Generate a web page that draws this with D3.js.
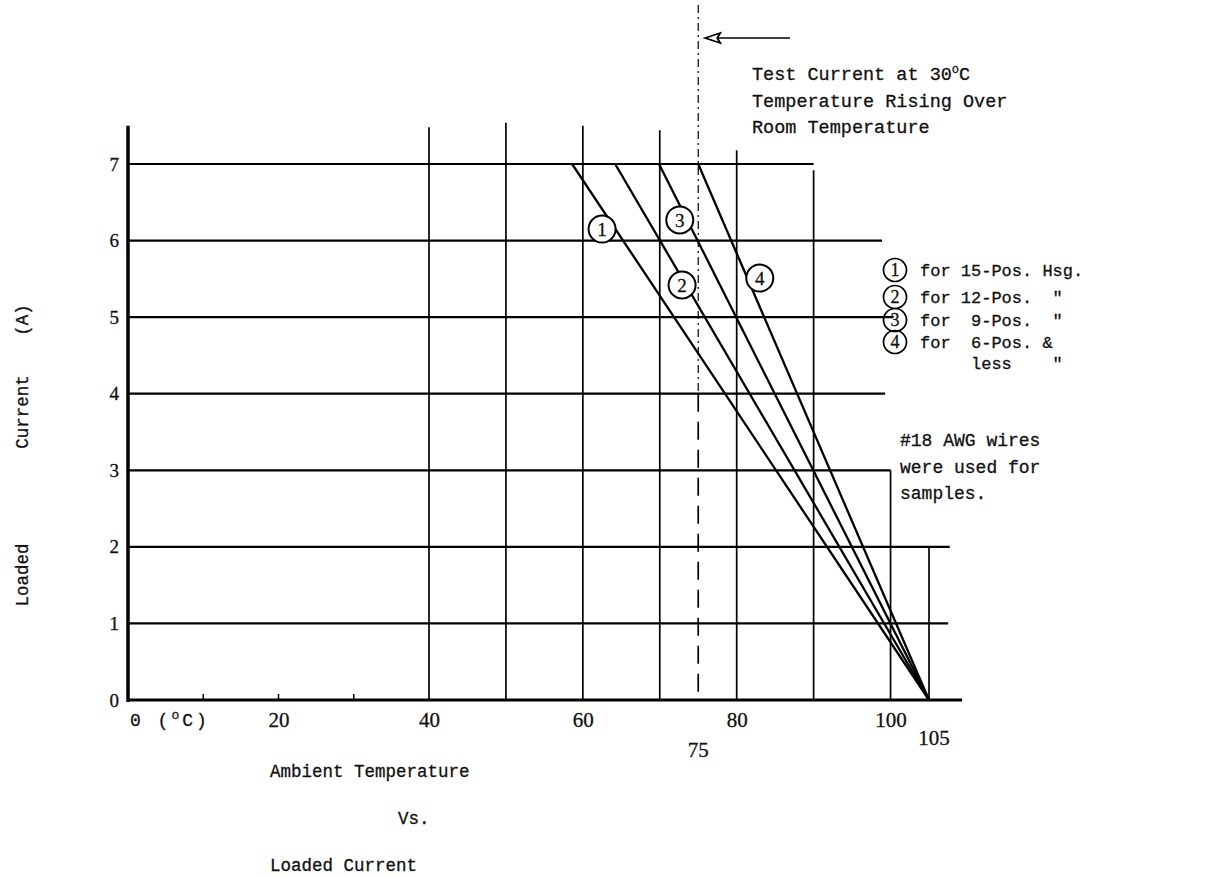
<!DOCTYPE html>
<html><head><meta charset="utf-8">
<script src="https://cdn.jsdelivr.net/npm/d3@7"></script>
<style>
body{margin:0;background:#fff;}
svg{display:block;background:#fff;}
text{font-family:"Liberation Mono","DejaVu Sans Mono",monospace;fill:#111;stroke:#111;stroke-width:0.3px;white-space:pre;}
</style></head><body>
<svg id="chart" width="1211" height="878"></svg>
<script>
// ---- data ----
const currentTicks = [0,1,2,3,4,5,6,7];
const tempTickLabels = [20,40,60,80,100];
const gridTemps = [40,50,60,70,80,90];
const gridTempTops = [7.48,7.54,7.5,7.44,7.18,6.92];
const gridCurrents = [1,2,3,4,5,6,7];
const gridCurrentEnds = [107.5,107.7,100,99.3,100.4,98.9,90];
const shortTemps = [100,105];
const shortTempTops = [3,2];
const minorTemps = [10,20,30];
const seriesNames = ["1","2","3","4"];
const seriesStartTemp = [58.6,64.2,69.9,75];
const seriesStartCurrent = [7,7,7,7];
const seriesEndTemp = [105,105,105,105];
const seriesEndCurrent = [0,0,0,0];
const labelTemp = [62.5,72.9,72.6,83.0];
const labelCurrent = [6.15,5.42,6.27,5.51];
const legendText = ["for 15-Pos. Hsg.", "for 12-Pos.  \"", "for  9-Pos.  \"", "for  6-Pos. &", "     less    \""];
const noteText = ["#18 AWG wires","were used for","samples."];
const testTemp = 75;
const testText = ["Test Current at 30", "Temperature Rising Over", "Room Temperature"];
const yTitleWords = ["Loaded","Current","(A)"];
const xTitleLines = ["Ambient Temperature","Vs.","Loaded Current"];

// ---- chart ----
const svg = d3.select("#chart");
const x = d3.scaleLinear().domain([0,40,105]).range([128,429,929]);
const y = d3.scaleLinear().domain([0,7]).range([700,164]);
const fs = 17.5;

const g = svg.append("g");

// horizontal grid lines
g.selectAll(".hg").data(gridCurrents).join("line")
  .attr("x1", x(0)).attr("x2", (d,i)=>x(gridCurrentEnds[i]))
  .attr("y1", d=>y(d)).attr("y2", d=>y(d))
  .attr("stroke","#000").attr("stroke-width",2.2);

// vertical grid lines
g.selectAll(".vg").data(gridTemps).join("line")
  .attr("x1", d=>x(d)).attr("x2", d=>x(d))
  .attr("y1", y(0)).attr("y2", (d,i)=>y(gridTempTops[i]))
  .attr("stroke","#000").attr("stroke-width",1.7);
g.selectAll(".vs").data(shortTemps).join("line")
  .attr("x1", d=>x(d)).attr("x2", d=>x(d))
  .attr("y1", y(0)).attr("y2", (d,i)=>y(shortTempTops[i]))
  .attr("stroke","#000").attr("stroke-width",1.7);

// minor ticks
g.selectAll(".mt").data(minorTemps).join("line")
  .attr("x1", d=>x(d)).attr("x2", d=>x(d))
  .attr("y1", y(0)).attr("y2", y(0)-6)
  .attr("stroke","#000").attr("stroke-width",1.5);

// dashed test line
g.append("line").attr("x1",x(testTemp)).attr("x2",x(testTemp))
  .attr("y1",5).attr("y2",y(4))
  .attr("stroke","#000").attr("stroke-width",1.2).attr("stroke-dasharray","8,4,2,4");
g.append("line").attr("x1",x(testTemp)).attr("x2",x(testTemp))
  .attr("y1",y(4)).attr("y2",y(0))
  .attr("stroke","#000").attr("stroke-width",1.7).attr("stroke-dasharray","18,10");

// axes
g.append("line").attr("x1",x(0)).attr("x2",x(109.3)).attr("y1",y(0)).attr("y2",y(0))
  .attr("stroke","#000").attr("stroke-width",3);
g.append("line").attr("x1",x(0)).attr("x2",x(0)).attr("y1",y(0)+2).attr("y2",y(7.5))
  .attr("stroke","#000").attr("stroke-width",3.5);

// series lines
g.selectAll(".s").data(seriesNames).join("line")
  .attr("x1",(d,i)=>x(seriesStartTemp[i])).attr("y1",(d,i)=>y(seriesStartCurrent[i]))
  .attr("x2",(d,i)=>x(seriesEndTemp[i])).attr("y2",(d,i)=>y(seriesEndCurrent[i]))
  .attr("stroke","#000").attr("stroke-width",2.3);

// series labels (circled numbers)
const lab = g.selectAll(".lab").data(seriesNames).join("g")
  .attr("transform",(d,i)=>`translate(${x(labelTemp[i])},${y(labelCurrent[i])})`);
lab.append("circle").attr("r",13.5).attr("fill","#fff").attr("stroke","#000").attr("stroke-width",2);
lab.append("text").attr("text-anchor","middle").attr("dy","0.36em")
  .style("font-family","'Liberation Serif',serif").style("font-size","19px").text(d=>d);

// y axis labels
const yAxis = d3.axisLeft(y).tickValues(currentTicks).tickSize(0).tickPadding(9).tickFormat(d3.format("d"));
const ya = g.append("g").attr("transform",`translate(${x(0)},0)`).call(yAxis);
ya.select(".domain").remove();
ya.selectAll("text").style("font-family","'Liberation Serif',serif").style("font-size","19px").attr("fill","#111");

// x axis labels
const xAxis = d3.axisBottom(x).tickValues(tempTickLabels).tickSize(0).tickPadding(12).tickFormat(d3.format("d"));
const xa = g.append("g").attr("transform",`translate(0,${y(0)})`).call(xAxis);
xa.select(".domain").remove();
xa.selectAll("text").style("font-family","'Liberation Serif',serif").style("font-size","21px").attr("fill","#111");

const zeroLab = g.append("text").attr("x",x(0)+2).attr("y",y(0)+26).style("font-size","18px").style("letter-spacing","3px");
zeroLab.append("tspan").text("0 (");
zeroLab.append("tspan").text("o").style("font-size","13px").attr("dy",-7);
zeroLab.append("tspan").text("C)").attr("dy",7);
g.append("text").attr("x",x(75)).attr("y",y(0)+57).attr("text-anchor","middle")
  .style("font-family","'Liberation Serif',serif").style("font-size","21px").text("75");
g.append("text").attr("x",x(105)+5).attr("y",y(0)+45).attr("text-anchor","middle")
  .style("font-family","'Liberation Serif',serif").style("font-size","21px").text("105");

// axis titles
const yTitleCenters = [575,412,320];
g.selectAll(".yt").data(yTitleWords).join("text")
  .attr("transform",(d,i)=>`translate(28,${yTitleCenters[i]}) rotate(-90)`).attr("text-anchor","middle")
  .style("font-size",fs+"px").text(d=>d);
const xTitleX = [270,398,270];
g.selectAll(".xt").data(xTitleLines).join("text").attr("x",(d,i)=>xTitleX[i]).attr("y",(d,i)=>777+i*47)
  .style("font-size",fs+"px").text(d=>d);

// test annotation
g.append("line").attr("x1",x(testTemp)+8).attr("x2",790).attr("y1",38).attr("y2",38)
  .attr("stroke","#000").attr("stroke-width",1.4);
g.append("path").attr("d",`M${x(testTemp)+7},38 L${x(testTemp)+22},33 L${x(testTemp)+19},38 L${x(testTemp)+22},43 Z`)
  .attr("fill","#fff").attr("stroke","#000").attr("stroke-width",1.8);
const tt = g.selectAll(".tt").data(testText).join("text").attr("x",752).attr("y",(d,i)=>80+i*26.5)
  .style("font-size","18.5px");
tt.append("tspan").text(d=>d);
tt.filter((d,i)=>i===0).append("tspan").text("o").style("font-size","12px").attr("dy",-7);
tt.filter((d,i)=>i===0).append("tspan").text("C").attr("dy",7);

// legend
const lg = g.selectAll(".lg").data(legendText).join("g")
  .attr("transform",(d,i)=>`translate(895,${[270,297,320,342,363][i]})`);
lg.filter((d,i)=>i<4).append("circle").attr("r",11.5).attr("fill","none").attr("stroke","#000").attr("stroke-width",1.7);
lg.filter((d,i)=>i<4).append("text").attr("text-anchor","middle").attr("dy","0.36em")
  .style("font-family","'Liberation Serif',serif").style("font-size","18px").text((d,i)=>seriesNames[i]);
lg.append("text").attr("x",25).attr("dy","0.36em").style("font-size","17px").text(d=>d);

// note
g.selectAll(".nt").data(noteText).join("text").attr("x",900).attr("y",(d,i)=>446+i*26.5)
  .style("font-size","18px").text(d=>d);
</script>
</body></html>
